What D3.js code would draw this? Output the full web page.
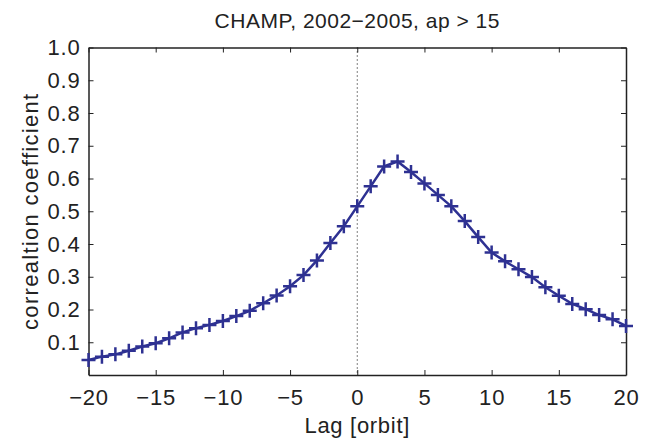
<!DOCTYPE html>
<html>
<head>
<meta charset="utf-8">
<script src="https://cdn.jsdelivr.net/npm/d3@7"></script>
<style>
  body { margin: 0; background: #fff; }
  svg text { font-family: "Liberation Sans", Arial, sans-serif; fill: #222; }
</style>
</head>
<body>
<svg id="chart" width="651" height="441"></svg>
<script>
const lags = d3.range(-20, 21);
const corr = [
  0.046, 0.056, 0.063, 0.074, 0.087, 0.097, 0.112, 0.130, 0.143, 0.153,
  0.165, 0.180, 0.196, 0.219, 0.243, 0.271, 0.305, 0.350, 0.403, 0.454,
  0.515, 0.576, 0.637, 0.652, 0.620, 0.585, 0.550, 0.515, 0.470, 0.421,
  0.374, 0.347, 0.323, 0.299, 0.268, 0.242, 0.217, 0.201, 0.183, 0.170,
  0.150
];
const xTicks = [-20, -15, -10, -5, 0, 5, 10, 15, 20];
const yTicks = [0.1, 0.2, 0.3, 0.4, 0.5, 0.6, 0.7, 0.8, 0.9, 1.0];

const plotLeft = 88.5, plotRight = 626, plotTop = 47.5, plotBottom = 375;
const color = '#2e3192';

const svg = d3.select('#chart');

const x = d3.scaleLinear().domain([-20, 20]).range([plotLeft, plotRight]);
const y = d3.scaleLinear().domain([0, 1]).range([plotBottom, plotTop]);

const data = lags.map((d, i) => ({ lag: d, r: corr[i] }));

// zero-lag dotted line
svg.append('line')
  .attr('x1', x(0)).attr('x2', x(0))
  .attr('y1', plotTop).attr('y2', plotBottom)
  .attr('stroke', '#000')
  .attr('stroke-width', 1)
  .attr('stroke-dasharray', '1,3');

// axes, ticks inward, mirrored
const fmt = (d) => d < 0 ? '\u2212' + Math.abs(d) : String(d);

svg.append('g')
  .attr('transform', `translate(0, ${plotBottom})`)
  .call(d3.axisBottom(x).tickValues(xTicks).tickSizeInner(-5).tickSizeOuter(0).tickPadding(14.5).tickFormat(fmt))
  .call((g) => g.selectAll('text').attr('font-size', 22).attr('letter-spacing', 0.8).style('fill', '#222'));

svg.append('g')
  .attr('transform', `translate(0, ${plotTop})`)
  .call(d3.axisTop(x).tickValues(xTicks).tickSizeInner(-5).tickSizeOuter(0).tickFormat(''));

svg.append('g')
  .attr('transform', `translate(${plotLeft}, 0)`)
  .call(d3.axisLeft(y).tickValues(yTicks).tickSizeInner(-5).tickSizeOuter(0).tickPadding(8).tickFormat(d3.format('.1f')))
  .call((g) => g.selectAll('text').attr('font-size', 22).attr('letter-spacing', 0.8).style('fill', '#222'));

svg.append('g')
  .attr('transform', `translate(${plotRight}, 0)`)
  .call(d3.axisRight(y).tickValues(yTicks).tickSizeInner(-5).tickSizeOuter(0).tickFormat(''));

svg.selectAll('.domain').attr('stroke', '#222').attr('stroke-width', 1.5);
svg.selectAll('.tick line').attr('stroke', '#222');

// line
svg.append('path')
  .datum(data)
  .attr('fill', 'none')
  .attr('stroke', color)
  .attr('stroke-width', 2.5)
  .attr('d', d3.line().x((d) => x(d.lag)).y((d) => y(d.r)));

// plus markers
svg.append('g')
  .selectAll('path')
  .data(data)
  .enter()
  .append('path')
  .attr('transform', (d) => `translate(${x(d.lag)}, ${y(d.r)})`)
  .attr('d', 'M-7,0H7M0,-7V7')
  .attr('stroke', color)
  .attr('stroke-width', 2.5)
  .attr('fill', 'none');

// labels
svg.append('text')
  .attr('x', x(0)).attr('y', 28)
  .attr('text-anchor', 'middle')
  .attr('font-size', 21)
  .attr('letter-spacing', 0.5)
  .text('CHAMP, 2002\u22122005, ap > 15');

svg.append('text')
  .attr('x', x(0)).attr('y', 433)
  .attr('text-anchor', 'middle')
  .attr('font-size', 22)
  .attr('letter-spacing', 0.7)
  .text('Lag [orbit]');

svg.append('text')
  .attr('transform', `translate(38, ${(plotTop + plotBottom) / 2}) rotate(-90)`)
  .attr('text-anchor', 'middle')
  .attr('font-size', 22)
  .attr('letter-spacing', 1.3)
  .text('correaltion coefficient');
</script>
</body>
</html>
